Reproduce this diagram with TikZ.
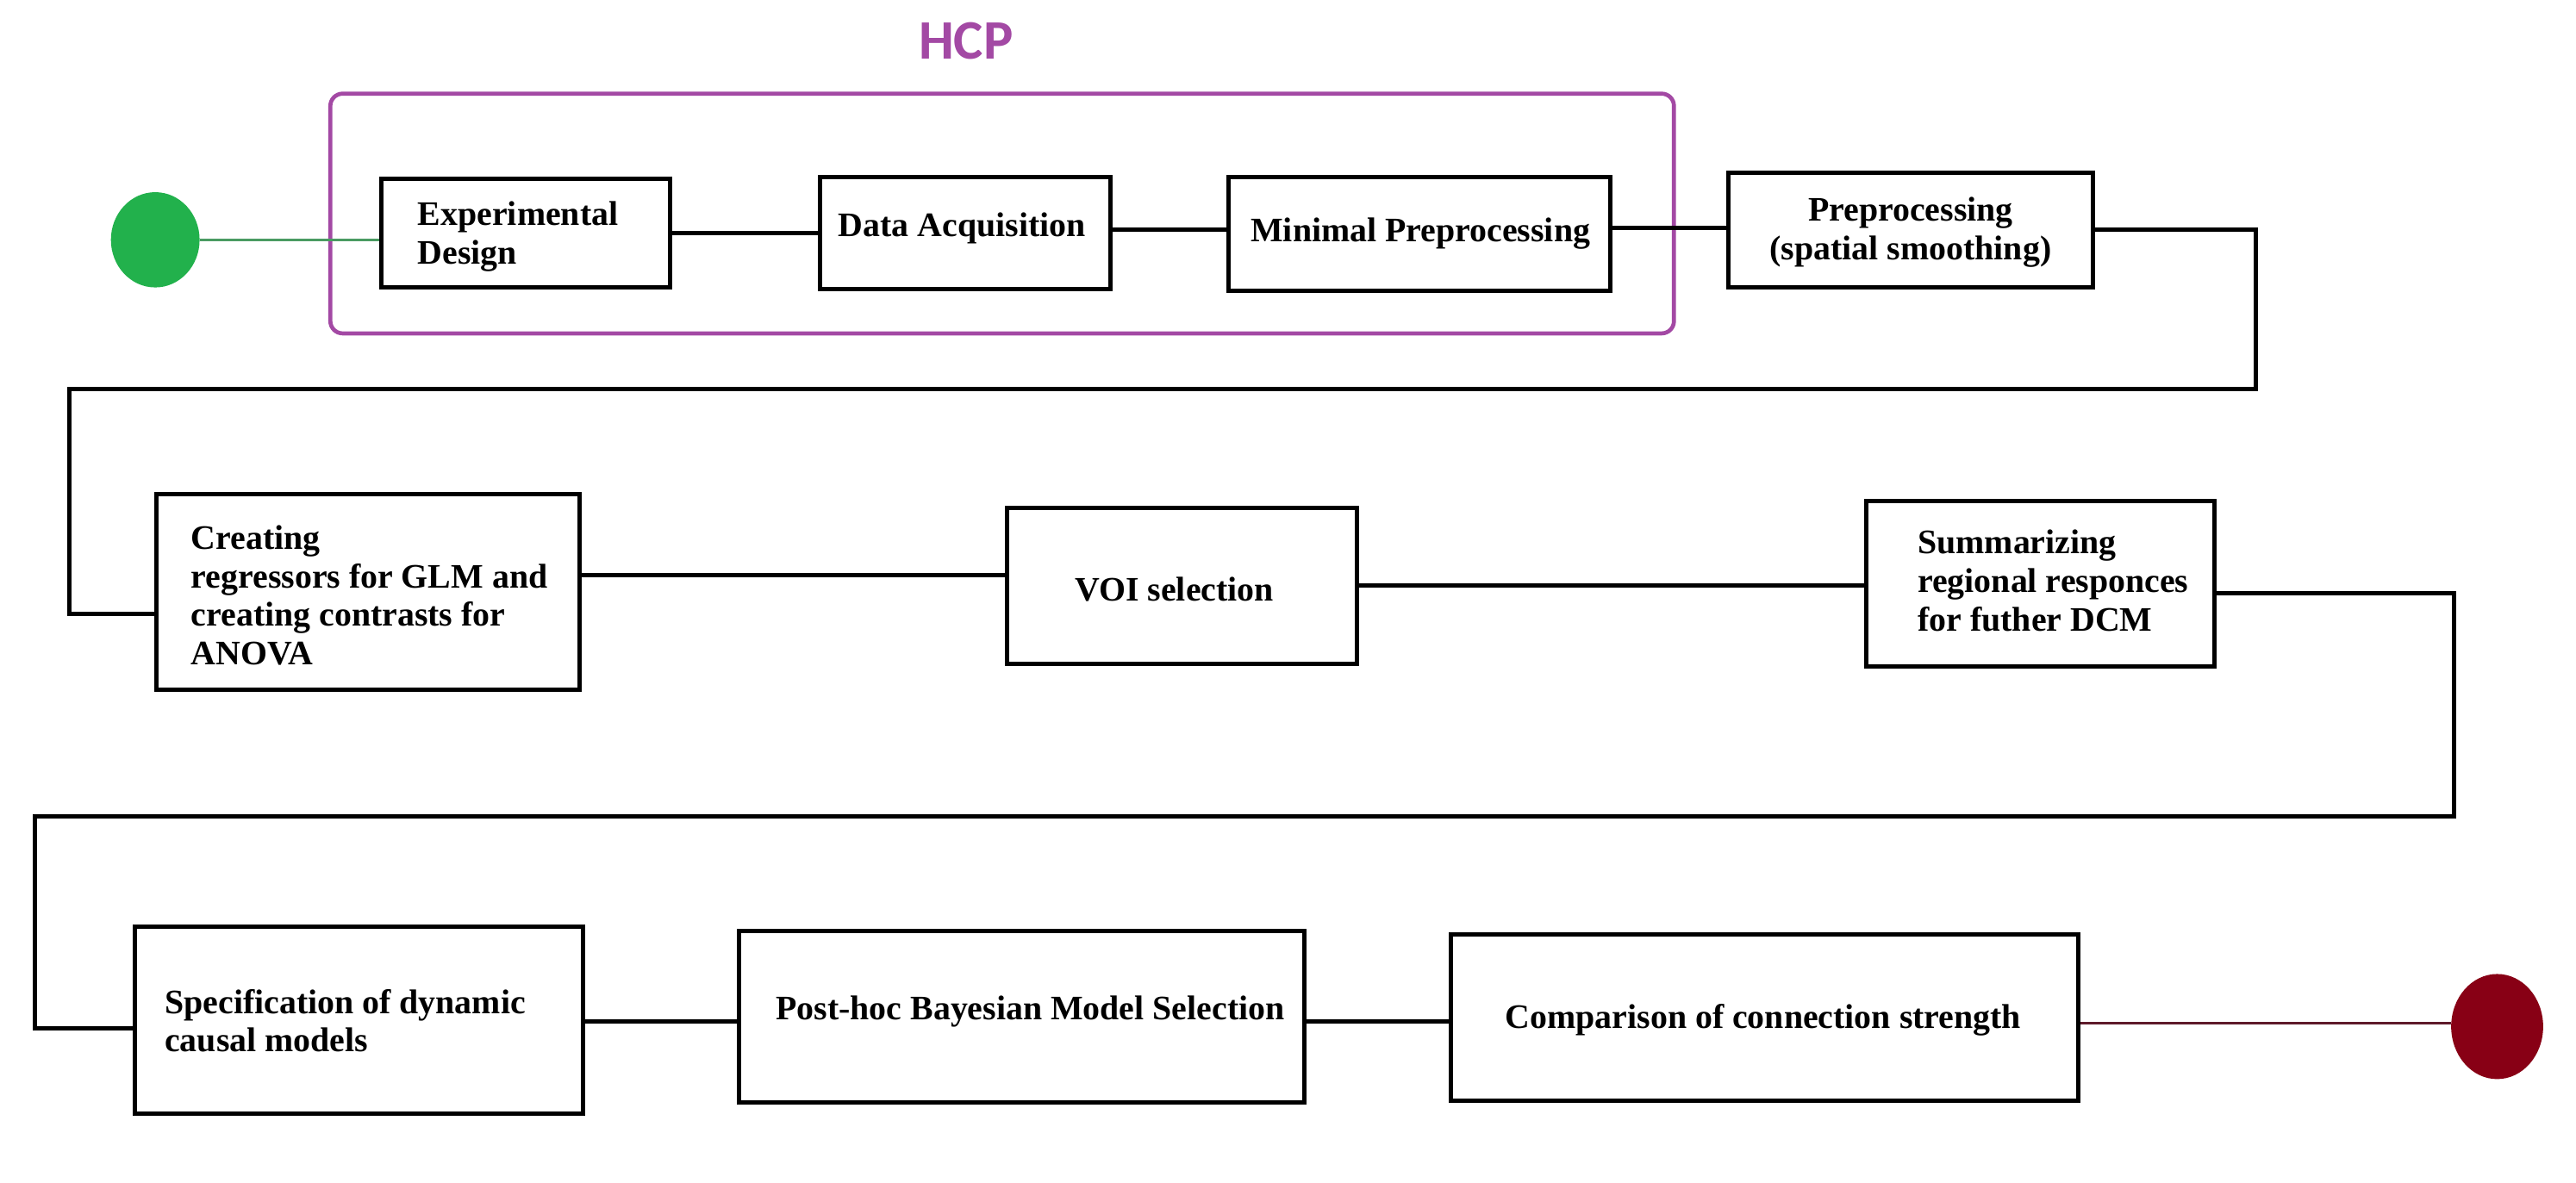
\documentclass[tikz,border=0pt]{standalone}
\usepackage{fontspec}
\setmainfont{Liberation Serif}
\newfontfamily\hcpfont{Carlito}
\usetikzlibrary{shapes.geometric,calc}
\definecolor{hcppurple}{HTML}{A349A4}
\definecolor{startgreen}{HTML}{22B14C}
\definecolor{startline}{HTML}{4A9B62}
\definecolor{enddark}{HTML}{880015}
\definecolor{endline}{HTML}{5E1A2A}
\begin{document}
\begin{tikzpicture}[x=0.02cm,y=-0.02cm,
  stepbox/.style={draw,line width=1.5pt,inner sep=0pt,fill=white},
  lbl/.style={font=\bfseries\fontsize{11.9}{13.4}\selectfont,inner sep=0pt,align=left,anchor=west},
  conn/.style={line width=1.5pt},
  term/.style={ellipse,inner sep=0pt,draw=none}]
\useasboundingbox (0,0) rectangle (1568,720);

% HCP group frame
\node[draw=hcppurple,line width=1.4pt,rounded corners=0.15cm,minimum width=16.36cm,minimum height=2.92cm,inner sep=0pt] (hcp) at (610,130) {};
\node[font=\hcpfont\bfseries\fontsize{19.3}{23}\selectfont,text=hcppurple,inner sep=0pt] (hcplabel) at (588,25) {HCP};

% terminals
\node[term,fill=startgreen,minimum width=1.08cm,minimum height=1.16cm] (start) at (94.5,146) {};
\node[term,fill=enddark,minimum width=1.12cm,minimum height=1.28cm] (finish) at (1520,625) {};

% boxes
\node[stepbox,minimum width=3.52cm,minimum height=1.32cm] (b1) at (320,142) {};
\node[stepbox,minimum width=3.54cm,minimum height=1.36cm] (b2) at (587.5,142) {};
\node[stepbox,minimum width=4.64cm,minimum height=1.38cm] (b3) at (864,142.5) {};
\node[stepbox,minimum width=4.44cm,minimum height=1.40cm] (b4) at (1163,140) {};
\node[stepbox,minimum width=5.16cm,minimum height=2.38cm] (b5) at (224,360.5) {};
\node[stepbox,minimum width=4.26cm,minimum height=1.90cm] (b6) at (719.5,356.5) {};
\node[stepbox,minimum width=4.24cm,minimum height=2.02cm] (b7) at (1242,355.5) {};
\node[stepbox,minimum width=5.46cm,minimum height=2.28cm] (b8) at (218.5,621) {};
\node[stepbox,minimum width=6.88cm,minimum height=2.08cm] (b9) at (622,619) {};
\node[stepbox,minimum width=7.64cm,minimum height=2.02cm] (b10) at (1074,619.5) {};

% labels
\node[lbl] (t1) at (254,144) {Experimental\\Design};
\node[lbl] (t2) at (510,139) {Data Acquisition};
\node[lbl] (t3) at (761,142) {Minimal Preprocessing};
\node[lbl,align=center,anchor=center] (t4) at (1163,141.5) {Preprocessing\\(spatial smoothing)};
\node[lbl] (t5) at (116,362.5) {Creating\\regressors for GLM and\\creating contrasts for\\ANOVA};
\node[lbl] (t6) at (654,359) {VOI selection};
\node[lbl] (t7) at (1167,353.5) {Summarizing\\regional responces\\for futher DCM};
\node[lbl] (t8) at (100,621.5) {Specification of dynamic\\causal models};
\node[lbl] (t9) at (472,616) {Post-hoc Bayesian Model Selection};
\node[lbl] (t10) at (916,621) {Comparison of connection strength};

% route coordinates
\coordinate (r1) at (1373,237);
\coordinate (l1) at (42,237);
\coordinate (r2) at (1494,497);
\coordinate (l2) at (21,497);

% connectors
\draw[startline,line width=0.9pt] (start.east) -- (start.east -| b1.west);
\draw[conn] (b1.east) -- (b1.east -| b2.west);
\draw[conn] (b2.east |- 0,140) -- (b3.west |- 0,140);
\draw[conn] (b3.east |- 0,138.5) -- (b4.west |- 0,138.5);
\draw[conn] (b4.east) -| (r1) -- (l1) |- (b5.west |- 0,373.6);
\draw[conn] (b5.east |- 0,350) -- (b6.west |- 0,350);
\draw[conn] (b6.east) -- (b6.east -| b7.west);
\draw[conn] (b7.east |- 0,361) -| (r2) -- (l2) |- (b8.west |- 0,626);
\draw[conn] (b8.east |- 0,622) -- (b9.west |- 0,622);
\draw[conn] (b9.east |- 0,622) -- (b10.west |- 0,622);
\draw[endline,line width=0.8pt] (b10.east |- 0,623) -- (finish.west |- 0,623);
\end{tikzpicture}
\end{document}
